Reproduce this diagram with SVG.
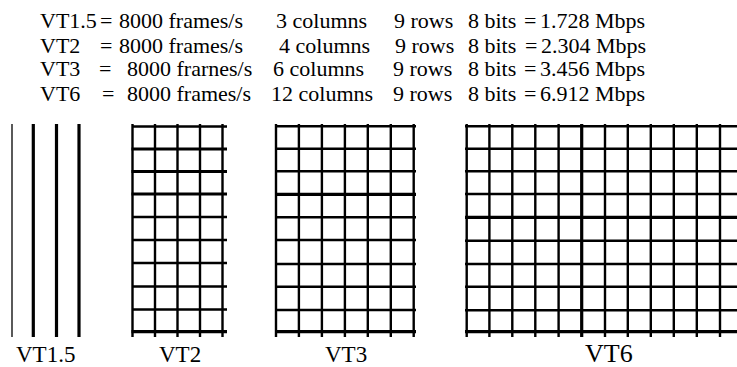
<svg xmlns="http://www.w3.org/2000/svg" width="737" height="367" viewBox="0 0 737 367">
<style>
.h{font-size:22px;fill:#000;}
.lb{font-size:23px;fill:#000;}
.k{stroke:#000;stroke-width:2.4;}
.t{stroke:#000;stroke-width:3.2;}
</style>
<g id="header">
<g id="row-vt15">
<text class="h" font-family="Liberation Serif" x="40" y="28">VT1.5</text>
<text class="h" font-family="Liberation Serif" x="100" y="28">=</text>
<text class="h" font-family="Liberation Serif" x="119" y="28">8000 frames/s</text>
<text class="h" font-family="Liberation Serif" x="276" y="28">3 columns</text>
<text class="h" font-family="Liberation Serif" x="394" y="28">9 rows</text>
<text class="h" font-family="Liberation Serif" x="468" y="28">8 bits</text>
<text class="h" font-family="Liberation Serif" x="524" y="28">=</text>
<text class="h" font-family="Liberation Serif" x="540" y="28">1.728 Mbps</text>
</g>
<g id="row-vt2">
<text class="h" font-family="Liberation Serif" x="40" y="52.5">VT2</text>
<text class="h" font-family="Liberation Serif" x="100" y="52.5">=</text>
<text class="h" font-family="Liberation Serif" x="119" y="52.5">8000 frames/s</text>
<text class="h" font-family="Liberation Serif" x="279" y="52.5">4 columns</text>
<text class="h" font-family="Liberation Serif" x="395" y="52.5">9 rows</text>
<text class="h" font-family="Liberation Serif" x="468" y="52.5">8 bits</text>
<text class="h" font-family="Liberation Serif" x="525" y="52.5">=</text>
<text class="h" font-family="Liberation Serif" x="541" y="52.5">2.304 Mbps</text>
</g>
<g id="row-vt3">
<text class="h" font-family="Liberation Serif" x="40" y="76">VT3</text>
<text class="h" font-family="Liberation Serif" x="99" y="76">=</text>
<text class="h" font-family="Liberation Serif" x="127" y="76">8000 frarnes/s</text>
<text class="h" font-family="Liberation Serif" x="273" y="76">6 columns</text>
<text class="h" font-family="Liberation Serif" x="393" y="76">9 rows</text>
<text class="h" font-family="Liberation Serif" x="468" y="76">8 bits</text>
<text class="h" font-family="Liberation Serif" x="524" y="76">=</text>
<text class="h" font-family="Liberation Serif" x="540" y="76">3.456 Mbps</text>
</g>
<g id="row-vt6">
<text class="h" font-family="Liberation Serif" x="40" y="101">VT6</text>
<text class="h" font-family="Liberation Serif" x="102" y="101">=</text>
<text class="h" font-family="Liberation Serif" x="127" y="101">8000 frames/s</text>
<text class="h" font-family="Liberation Serif" x="271" y="101">12 columns</text>
<text class="h" font-family="Liberation Serif" x="393" y="101">9 rows</text>
<text class="h" font-family="Liberation Serif" x="468" y="101">8 bits</text>
<text class="h" font-family="Liberation Serif" x="524" y="101">=</text>
<text class="h" font-family="Liberation Serif" x="540" y="101">6.912 Mbps</text>
</g>
</g>
<g id="vt15">
<line class="k" x1="12" y1="124" x2="12" y2="337" style="stroke-width:1.3"/>
<line class="t" x1="33.3" y1="124" x2="33.3" y2="337"/>
<line class="t" x1="56.5" y1="124" x2="56.5" y2="337"/>
<line class="t" x1="79" y1="124" x2="79" y2="337"/>
<text class="lb" font-family="Liberation Serif" x="16" y="362">VT1.5</text>
</g>
<g id="vt2">
<path class="k" d="M132.5 124V337M155 124V337M177.5 124V337M200 124V337M222.5 124V337M131.5 126.5H227M131.5 217H227M131.5 240H227M131.5 263H227M131.5 286.5H227M131.5 309.5H227"/>
<path class="t" d="M131.5 149H227M131.5 171.5H227M131.5 194H227M131.5 331.7H227"/>
<text class="lb" font-family="Liberation Serif" x="159" y="362">VT2</text>
</g>
<g id="vt3">
<path class="k" d="M276 124V337M298.9 124V337M321.9 124V337M344.9 124V337M367.8 124V337M390.8 124V337M413.7 124V337M275 126.3H416M275 148.7H416M275 171.3H416M275 217.3H416M275 240H416M275 264H416M275 286.7H416M275 310H416"/>
<path class="t" d="M275 194.3H416M275 331.7H416"/>
<text class="lb" font-family="Liberation Serif" x="325" y="362">VT3</text>
</g>
<g id="vt6">
<path class="k" d="M466.7 124V337M489.4 124V337M512.3 124V337M535.3 124V337M558.6 124V337M605 124V337M627.8 124V337M650.8 124V337M673.8 124V337M696.8 124V337M720 124V337M465 126.3H737M465 148.7H737M465 171.3H737M465 194H737M465 240.7H737M465 264H737M465 286.7H737M465 310.3H737"/>
<path class="t" d="M581.7 124V337M465 217.3H737M465 331.7H737"/>
<text class="lb" font-family="Liberation Serif" x="585" y="362" style="font-size:26px">VT6</text>
</g>
</svg>
